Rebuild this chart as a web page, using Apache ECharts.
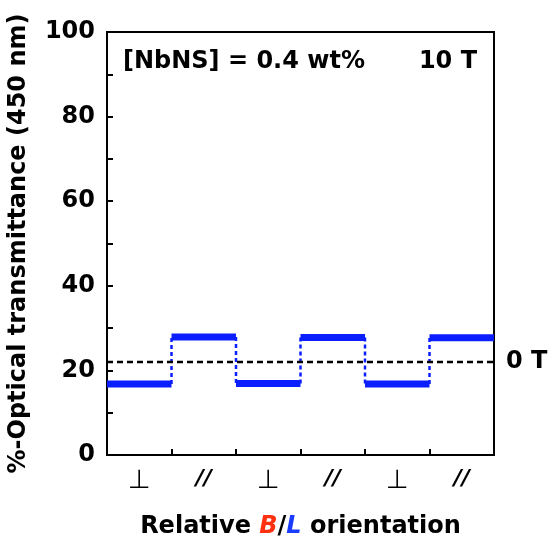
<!DOCTYPE html>
<html>
<head>
<meta charset="utf-8">
<script src="https://cdn.jsdelivr.net/npm/echarts@6/dist/echarts.min.js"></script>
<style>
  html, body { margin: 0; padding: 0; background: #fff; }
  #main { width: 550px; height: 539px; }
</style>
</head>
<body>
<div id="main"></div>
<script>
// relative B/L orientation of each step
var orientations = ['⊥', '//', '⊥', '//', '⊥', '//'];
// transmittance at 10 T for each step (%)
var levels = [16.8, 27.9, 16.9, 27.8, 16.8, 27.7];
// transmittance at 0 T (%)
var zeroField = 22.0;

var FONT = '"DejaVu Sans", Arial, sans-serif';
var BLUE = '#0a1eff';

// flat segments, broken with '-' between steps
var flatData = [];
levels.forEach(function (v, i) {
    flatData.push([i, v], [i + 1, v]);
    if (i < levels.length - 1) flatData.push([i + 1, '-']);
});
// dotted jumps between steps
var jumpData = [];
for (var i = 1; i < levels.length; i++) {
    jumpData.push([i, levels[i - 1]], [i, levels[i]]);
    if (i < levels.length - 1) jumpData.push([i, '-']);
}

var myChart = echarts.init(document.getElementById('main'));
var option = {
    animation: false,
    grid: {
        left: 107, right: 56, top: 32, bottom: 84,
        outerBoundsMode: 'none',
        show: true, borderColor: '#000', borderWidth: 2
    },
    xAxis: [{
        type: 'value',
        min: 0, max: 6, interval: 1,
        axisLine: { lineStyle: { color: '#000', width: 2 } },
        axisTick: { inside: true, length: 6, lineStyle: { color: '#000', width: 2 } },
        axisLabel: { show: false },
        splitLine: { show: false }
    }, {
        type: 'category',
        position: 'bottom',
        data: orientations,
        axisLine: { show: false },
        axisTick: { show: false },
        axisLabel: {
            margin: 13,
            formatter: function (v) {
                return v === '//' ? '{p|//}' : '{s|' + v + '}';
            },
            rich: {
                p: { fontFamily: FONT, fontSize: 22, fontWeight: 'bold', fontStyle: 'italic', color: '#000' },
                s: { fontFamily: FONT, fontSize: 26, color: '#000' }
            }
        },
        name: '{n|Relative }{b|B}{n|/}{l|L}{n| orientation}',
        nameLocation: 'middle',
        nameGap: 60,
        nameTextStyle: {
            rich: {
                n: { fontFamily: FONT, fontSize: 24, fontWeight: 'bold', color: '#000' },
                b: { fontFamily: FONT, fontSize: 24, fontWeight: 'bold', fontStyle: 'italic', color: '#ff3010' },
                l: { fontFamily: FONT, fontSize: 24, fontWeight: 'bold', fontStyle: 'italic', color: '#1a3cff' }
            }
        }
    }],
    yAxis: {
        type: 'value',
        min: 0, max: 100, interval: 20,
        axisLine: { lineStyle: { color: '#000', width: 2 } },
        axisTick: { inside: true, length: 6, lineStyle: { color: '#000', width: 2 } },
        minorTick: { show: true, splitNumber: 2, length: 6, lineStyle: { color: '#000', width: 2 } },
        axisLabel: {
            margin: 12,
            fontFamily: FONT, fontSize: 24, fontWeight: 'bold', color: '#000'
        },
        splitLine: { show: false },
        name: '%-Optical transmittance (450 nm)',
        nameLocation: 'middle',
        nameGap: 76,
        nameTextStyle: { fontFamily: FONT, fontSize: 24, fontWeight: 'bold', color: '#000' }
    },
    graphic: [{
        type: 'text', left: 123, top: 50,
        style: { text: '[NbNS] = 0.4 wt%', font: 'bold 24px ' + FONT, fill: '#000' }
    }, {
        type: 'text', right: 73, top: 50,
        style: { text: '10 T', font: 'bold 24px ' + FONT, fill: '#000' }
    }],
    series: [{
        type: 'line',
        xAxisIndex: 0,
        data: jumpData,
        symbol: 'none',
        lineStyle: { color: BLUE, width: 2.5, type: [4, 3] },
        z: 2
    }, {
        type: 'line',
        xAxisIndex: 0,
        data: [[0, zeroField], [6, zeroField]],
        symbol: 'none',
        lineStyle: { color: '#000', width: 2.5, type: [6, 4] },
        endLabel: {
            show: true, formatter: '0 T', distance: 12,
            fontFamily: FONT, fontSize: 24, fontWeight: 'bold', color: '#000'
        },
        z: 3
    }, {
        type: 'line',
        xAxisIndex: 0,
        data: flatData,
        symbol: 'none',
        lineStyle: { color: BLUE, width: 7, cap: 'butt' },
        z: 4
    }]
};
myChart.setOption(option);
</script>
</body>
</html>
